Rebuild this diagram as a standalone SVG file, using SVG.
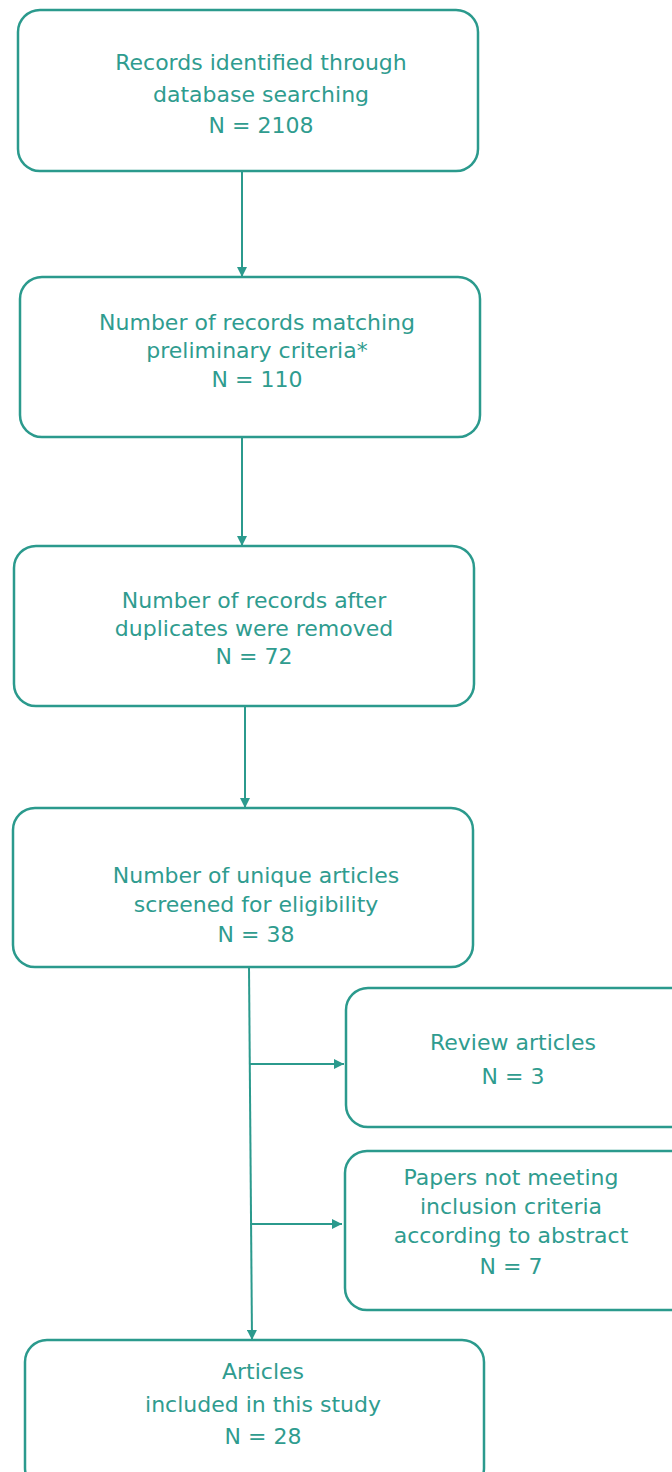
<svg xmlns="http://www.w3.org/2000/svg" width="672" height="1472" viewBox="0 0 672 1472">
<style>
.box{fill:#fff;stroke:#2b9a8d;stroke-width:2.5}
.t{font-family:"DejaVu Sans",sans-serif;font-size:22px;fill:#2f9c8f;text-anchor:middle}
.c{stroke:#2b9a8d;stroke-width:2;fill:none;marker-end:url(#ah)}
</style>
<defs>
<marker id="ah" viewBox="0 0 10 10" refX="10" refY="5" markerWidth="5" markerHeight="5" orient="auto" markerUnits="strokeWidth">
<path d="M0,0 L10,5 L0,10 z" fill="#2b9a8d"/>
</marker>
</defs>
<rect width="672" height="1472" fill="#fff"/>
<g id="connectors">
<line class="c" x1="242" y1="171" x2="242" y2="277"/>
<line class="c" x1="242" y1="437" x2="242" y2="546"/>
<line class="c" x1="245" y1="706" x2="245" y2="808"/>
<line class="c" x1="249" y1="967" x2="252" y2="1340"/>
<line class="c" x1="250" y1="1064" x2="344" y2="1064"/>
<line class="c" x1="250" y1="1224" x2="342" y2="1224"/>
</g>
<g id="n1">
<rect class="box" x="18" y="10" width="460" height="161" rx="22"/>
<text class="t" x="261" y="70">Records identified through</text>
<text class="t" x="261" y="102">database searching</text>
<text class="t" x="261" y="133">N = 2108</text>
</g>
<g id="n2">
<rect class="box" x="20" y="277" width="460" height="160" rx="22"/>
<text class="t" x="257" y="330">Number of records matching</text>
<text class="t" x="257" y="358">preliminary criteria*</text>
<text class="t" x="257" y="387">N = 110</text>
</g>
<g id="n3">
<rect class="box" x="14" y="546" width="460" height="160" rx="22"/>
<text class="t" x="254" y="608">Number of records after</text>
<text class="t" x="254" y="636">duplicates were removed</text>
<text class="t" x="254" y="664">N = 72</text>
</g>
<g id="n4">
<rect class="box" x="13" y="808" width="460" height="159" rx="22"/>
<text class="t" x="256" y="883">Number of unique articles</text>
<text class="t" x="256" y="912">screened for eligibility</text>
<text class="t" x="256" y="942">N = 38</text>
</g>
<g id="n5">
<rect class="box" x="346" y="988" width="346" height="139" rx="22"/>
<text class="t" x="513" y="1050">Review articles</text>
<text class="t" x="513" y="1084">N = 3</text>
</g>
<g id="n6">
<rect class="box" x="345" y="1151" width="347" height="159" rx="22"/>
<text class="t" x="511" y="1185">Papers not meeting</text>
<text class="t" x="511" y="1214">inclusion criteria</text>
<text class="t" x="511" y="1243">according to abstract</text>
<text class="t" x="511" y="1274">N = 7</text>
</g>
<g id="n7">
<rect class="box" x="25" y="1340" width="459" height="150" rx="22"/>
<text class="t" x="263" y="1379">Articles</text>
<text class="t" x="263" y="1412">included in this study</text>
<text class="t" x="263" y="1444">N = 28</text>
</g>
</svg>
